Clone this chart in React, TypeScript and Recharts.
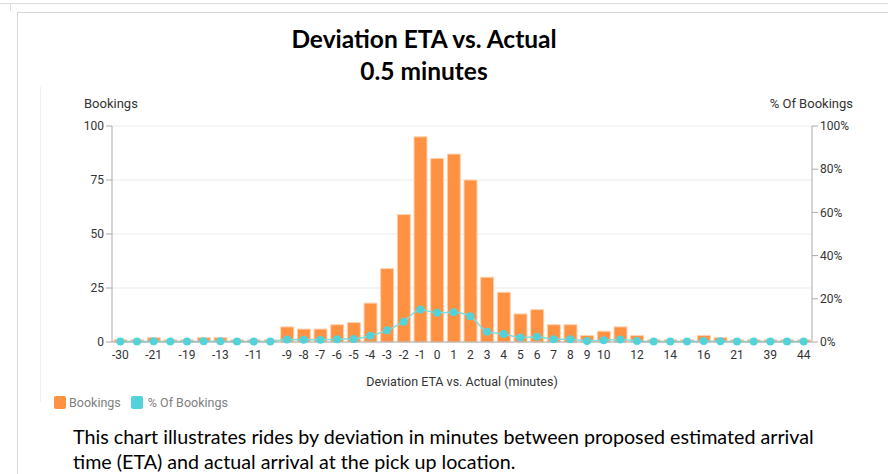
import React from 'react';
import { ComposedChart, Bar, Line, XAxis, YAxis, CartesianGrid } from 'recharts';

const categories = ['-30','-25','-21','-20','-19','-15','-13','-12','-11','-10','-9','-8','-7','-6','-5','-4','-3','-2','-1','0','1','2','3','4','5','6','7','8','9','10','11','12','13','14','15','16','18','21','30','39','41','44'];
const bookings = [1,1,2,1,1,2,2,1,1,1,7,6,6,8,9,18,34,59,95,85,87,75,30,23,13,15,8,8,3,5,7,3,1,1,1,3,2,1,1,1,1,1];
const percentOfBookings = [0.2,0.2,0.3,0.2,0.2,0.3,0.3,0.2,0.2,0.2,1.1,1.0,1.0,1.3,1.4,2.9,5.4,9.4,15.1,13.5,13.8,11.9,4.8,3.7,2.1,2.4,1.3,1.3,0.5,0.8,1.1,0.5,0.2,0.2,0.2,0.5,0.3,0.2,0.2,0.2,0.2,0.2];
const xTickLabels = ['-30','-21','-19','-13','-11','-9','-8','-7','-6','-5','-4','-3','-2','-1','0','1','2','3','4','5','6','7','8','9','10','12','14','16','21','39','44'];
const leftTicks = [0, 25, 50, 75, 100];
const rightTicks = [0, 20, 40, 60, 80, 100];

const titleLines = ['Deviation ETA vs. Actual', '0.5 minutes'];
const descriptionLines = [
  'This chart illustrates rides by deviation in minutes between proposed estimated arrival',
  'time (ETA) and actual arrival at the pick up location.',
];

const data = categories.map((c, i) => ({ name: c, bookings: bookings[i], pct: percentOfBookings[i] }));

const ORANGE = '#ff9242';
const CYAN = '#52d3da';
const axisFont = { fontFamily: 'Roboto, sans-serif', fontSize: 12, fill: '#333' };

export default function App() {
  return (
    <div style={{ position: 'absolute', left: 0, top: 0, width: 888, height: 474, background: '#fff', overflow: 'hidden', fontFamily: 'Roboto, sans-serif' }}>
      {/* frame lines */}
      <div style={{ position: 'absolute', left: 0, top: 3, width: 888, height: 0, borderTop: '1px solid #dcdcdc' }} />
      <div style={{ position: 'absolute', left: 10, top: 3, width: 0, height: 8, borderLeft: '1px solid #dcdcdc' }} />
      <div style={{ position: 'absolute', left: 17, top: 12, width: 880, height: 470, borderLeft: '1px solid #d6d6d6', borderTop: '1px solid #d6d6d6' }} />
      <div style={{ position: 'absolute', left: 40, top: 87, width: 0, height: 315, borderLeft: '1px solid #eeeeee' }} />

      {/* title */}
      <div style={{ position: 'absolute', left: 0, top: 23, width: 848, textAlign: 'center', fontFamily: 'Lato, sans-serif', fontWeight: 700, fontSize: 24.5, lineHeight: '32px', color: '#000' }}>
        {titleLines.map((t) => (<div key={t}>{t}</div>))}
      </div>

      {/* axis titles */}
      <div style={{ position: 'absolute', left: 84, top: 96, fontSize: 13, color: '#333' }}>Bookings</div>
      <div style={{ position: 'absolute', right: 888 - 853, top: 96, fontSize: 13, color: '#333' }}>% Of Bookings</div>

      <div style={{ position: 'absolute', left: 40, top: 90 }}>
        <ComposedChart width={830} height={300} data={data} margin={{ top: 36, right: 0, bottom: 0, left: 0 }} barCategoryGap="12%">
          <CartesianGrid yAxisId="left" vertical={false} stroke="#ececec" />
          <XAxis
            dataKey="name"
            ticks={xTickLabels}
            interval={0}
            tickLine={false}
            axisLine={{ stroke: '#aaa' }}
            tick={axisFont}
            height={48}
            label={{ value: 'Deviation ETA vs. Actual (minutes)', position: 'insideBottom', offset: 4, style: { fontFamily: 'Roboto, sans-serif', fontSize: 12.5, fill: '#333' } }}
          />
          <YAxis yAxisId="left" orientation="left" width={72} domain={[0, 100]} ticks={leftTicks} tick={axisFont} axisLine={{ stroke: '#aaa' }} tickLine={{ stroke: '#aaa' }} />
          <YAxis yAxisId="right" orientation="right" width={58} domain={[0, 100]} ticks={rightTicks} tickFormatter={(v) => `${v}%`} tick={axisFont} axisLine={{ stroke: '#aaa' }} tickLine={{ stroke: '#aaa' }} />
          <Bar yAxisId="left" dataKey="bookings" fill={ORANGE} stroke="#ffd2b0" strokeWidth={1} isAnimationActive={false} />
          <Line yAxisId="right" type="monotone" dataKey="pct" stroke="#7fdde2" strokeWidth={1.5} dot={{ r: 4, fill: CYAN, stroke: 'none' }} isAnimationActive={false} />
        </ComposedChart>
      </div>

      {/* legend */}
      <div style={{ position: 'absolute', left: 54, top: 395, display: 'flex', alignItems: 'center', fontSize: 12.5, color: '#808080' }}>
        <span style={{ display: 'inline-block', width: 12, height: 13, borderRadius: 2, background: ORANGE, marginRight: 3 }} />
        <span style={{ marginRight: 10 }}>Bookings</span>
        <span style={{ display: 'inline-block', width: 12, height: 13, borderRadius: 2, background: CYAN, marginRight: 5 }} />
        <span>% Of Bookings</span>
      </div>

      {/* description */}
      <div style={{ position: 'absolute', left: 73, top: 424, fontFamily: 'Lato, sans-serif', fontSize: 19.7, lineHeight: '25px', color: '#000' }}>
        {descriptionLines.map((t) => (<div key={t}>{t}</div>))}
      </div>
    </div>
  );
}
